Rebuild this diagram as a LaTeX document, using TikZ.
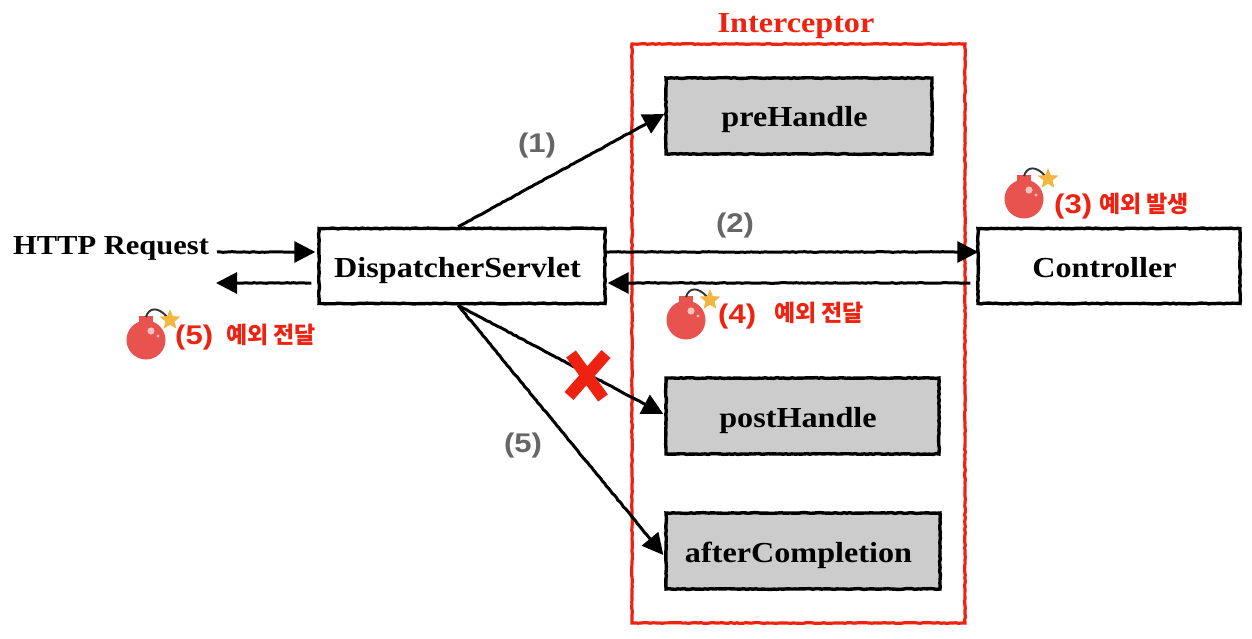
\documentclass[tikz,border=0pt]{standalone}
\usepackage{fontspec}
\setmainfont[FakeStretch=1.11]{Liberation Serif}
\setsansfont[FakeStretch=1.15]{Liberation Sans}
\newfontfamily\krfont{Noto Sans CJK KR}
\usetikzlibrary{arrows.meta,shapes.geometric,decorations.pathmorphing}
\definecolor{redc}{HTML}{EE2211}
\definecolor{bombc}{HTML}{E8524F}
\definecolor{starc}{HTML}{F4B63F}
\definecolor{boxg}{HTML}{CCCCCC}
\definecolor{labg}{HTML}{666666}
\pgfmathsetseed{7}
\newcommand{\lft}{\hspace*{-9pt}}
\tikzset{
 rough/.style={decorate,decoration={random steps,segment length=3pt,amplitude=.4pt}},
 roughline/.style={decorate,decoration={random steps,segment length=3pt,amplitude=.35pt,post=lineto,post length=24pt}},
 plainbox/.style={draw=black,line width=3.4pt,rough,fill=white,inner sep=0pt,text height=28pt,text depth=6pt,font=\bfseries\fontsize{29}{32}\selectfont},
 graybox/.style={plainbox,fill=boxg},
 conn/.style={line width=3pt,-{Triangle[length=21pt,width=21pt]},black,roughline},
 stepnum/.style={text=labg,font=\sffamily\bfseries\fontsize{27}{30}\selectfont,inner sep=0pt},
 rednum/.style={text=redc,font=\sffamily\bfseries\fontsize{27}{30}\selectfont,inner sep=0pt},
 redkr/.style={text=redc,font=\krfont\bfseries\fontsize{23}{26}\selectfont,inner sep=0pt},
 bombbody/.style={circle,fill=bombc,minimum size=39pt,inner sep=0pt},
 bombstar/.style={star,star points=5,star point ratio=2.3,fill=starc,minimum size=21pt,inner sep=0pt},
}
\newcommand{\bombat}[3]{%
 \node[bombbody] (#1b) at (#2,#3) {};
 \fill[bombc] (#2-7,#3-24) rectangle (#2+7,#3-15);
 \fill[white!65!bombc] (#2+5,#3-9) circle (3.6);
 \fill[white!60!bombc] (#2+12,#3-4) circle (1.7);
 \node[bombstar] (#1s) at (#2+24,#3-20) {};
 \draw[black!80,line width=1.9pt] (#2,#3-23) .. controls (#2+3,#3-33) and (#2+12,#3-33) .. (#1s);
 \node[bombstar] at (#2+24,#3-20) {};
}
\begin{document}
\begin{tikzpicture}[x=1pt,y=-1pt]
\useasboundingbox (0,0) rectangle (1252,639);
\fill[white] (0,0) rectangle (1252,639);
% interceptor frame
\node[draw=redc,line width=3.2pt,rough,minimum width=333pt,minimum height=579pt,inner sep=0pt] (frame) at (798.5,333.5) {};
\node[text=redc,font=\bfseries\fontsize{29}{32}\selectfont,inner sep=0pt] (title) at (796,26) {Interceptor};
% boxes
\node[graybox,minimum width=266pt,minimum height=76pt] (pre) at (799,116) {\lft preHandle};
\node[graybox,minimum width=273pt,minimum height=76pt] (post) at (802.5,416) {\lft postHandle};
\node[graybox,minimum width=274pt,minimum height=76pt] (after) at (803,551) {\lft afterCompletion};
\node[plainbox,minimum width=286pt,minimum height=75pt] (ds) at (462,266) {\lft DispatcherServlet};
\node[plainbox,minimum width=262pt,minimum height=75pt] (ctrl) at (1109,266) {\lft Controller};
\node[inner sep=0pt,font=\bfseries\fontsize{27.5}{32}\selectfont] (http) at (111,248) {HTTP Request};
% free ends
\coordinate (reqin) at (217,252);
\coordinate (reqout) at (216,283);
% connectors
\draw[conn] ([xshift=-4pt]ds.north) -- ([yshift=2pt]pre.west);
\draw[conn] (ds.east |- reqin) -- ([xshift=2pt]ctrl.west |- reqin);
\draw[conn] ([xshift=-6pt]ctrl.west |- reqout) -- ([xshift=1pt]ds.east |- reqout);
\draw[conn] (reqin) -- ([xshift=-2pt]ds.west |- reqin);
\draw[conn] ([xshift=-6pt]ds.west |- reqout) -- (reqout);
\draw[conn] ([xshift=-4pt]ds.south) -- ([yshift=2pt,xshift=-1pt]post.west);
\draw[conn] ([xshift=-4pt]ds.south) -- ([yshift=-4pt,xshift=-1pt]after.west);
% cross
\draw[redc,line width=12pt] (571,354) -- (603,398);
\draw[redc,line width=12pt] (606,354) -- (569,396);
% labels
\node[stepnum] (l1) at (537,146) {(1)};
\node[stepnum] (l2) at (735,226) {(2)};
\node[stepnum] (l5) at (523,446) {(5)};
% bombs
\bombat{a}{1024}{199}
\node[rednum,anchor=west] (r3) at (1054,207) {(3)};
\node[redkr,anchor=west] (k3) at (1099,204) {예외 발생};
\bombat{c}{686}{320}
\node[rednum,anchor=west] (r4) at (718,317) {(4)};
\node[redkr,anchor=west] (k4) at (774,313) {예외 전달};
\bombat{e}{146}{340}
\node[rednum,anchor=west] (r5) at (175,338) {(5)};
\node[redkr,anchor=west] (k5) at (226,335) {예외 전달};
\end{tikzpicture}
\end{document}
